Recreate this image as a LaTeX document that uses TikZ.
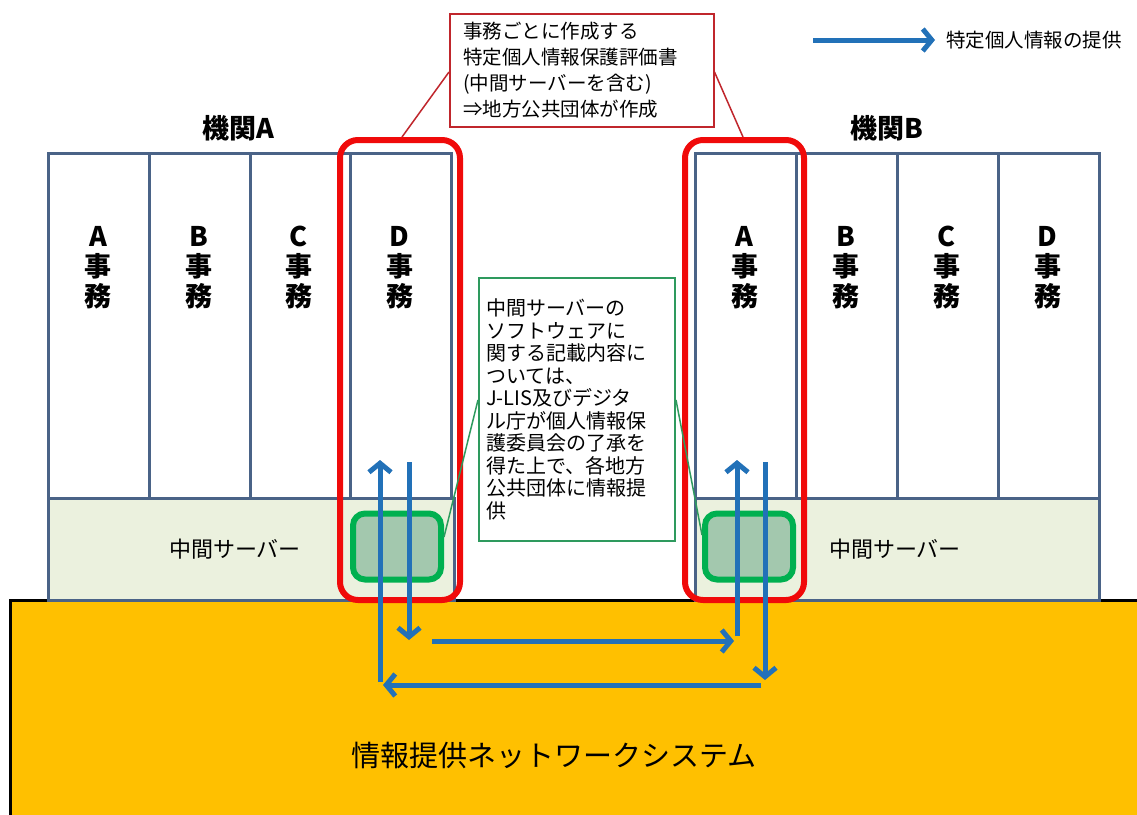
\documentclass[tikz,border=0pt]{standalone}
\usepackage{fontspec}
\setmainfont{Noto Sans CJK JP}
\usetikzlibrary{arrows.meta}
\definecolor{colline}{HTML}{4A6387}
\definecolor{stripfill}{HTML}{EBF1DE}
\definecolor{netfill}{HTML}{FFC000}
\definecolor{redline}{HTML}{F00A0A}
\definecolor{grn}{HTML}{00B050}
\definecolor{grnfill}{HTML}{A3C8AE}
\definecolor{calgrn}{HTML}{2E9A5E}
\definecolor{calred}{HTML}{C0262C}
\definecolor{arrblue}{HTML}{2271B8}
\tikzset{
  col/.style={draw=colline, line width=3pt, fill=white, minimum width=101pt, minimum height=345pt, inner sep=0pt, anchor=north west},
  strip/.style={draw=colline, line width=3pt, fill=stripfill, minimum height=102pt, inner sep=0pt, anchor=north west},
  collabel/.style={font=\bfseries\fontsize{27}{30}\selectfont, align=center, inner sep=0pt},
  orglabel/.style={font=\bfseries\fontsize{27}{30}\selectfont, inner sep=0pt},
  srvlabel/.style={font=\fontsize{22}{24}\selectfont, inner sep=0pt},
  redbox/.style={draw=redline, line width=6pt, rounded corners=18pt},
  grnbox/.style={draw=grn, line width=6pt, fill=grnfill, rounded corners=12pt, minimum width=88pt, minimum height=66pt, inner sep=0pt},
  flow/.style={draw=arrblue, line width=5pt, -{Straight Barb[length=9pt,width=22pt]}},
  callred/.style={draw=calred, line width=1.5pt, fill=white, align=left, font=\fontsize{19.5}{26}\selectfont, inner sep=0pt, anchor=north west, minimum width=264pt, minimum height=113pt, text width=245pt},
  callgrn/.style={draw=calgrn, line width=2pt, fill=white, align=left, font=\fontsize{20}{22.5}\selectfont, inner sep=0pt, anchor=north west, minimum width=196pt, minimum height=263pt, text width=184pt},
}
\begin{document}
\begin{tikzpicture}[x=1pt,y=-1pt]
\fill[white] (0,0) rectangle (1137,814);
\useasboundingbox (0,0) rectangle (1137,814);
\begin{scope}
\clip (0,0) rectangle (1137,814);
% network system
\path[fill=netfill, draw=black, line width=3pt] (10,600) rectangle (1160,840);
\node[font=\fontsize{29}{32}\selectfont, inner sep=0pt] (net) at (554,755) {情報提供ネットワークシステム};

% organisation A
\node[col] (a1) at (47,152) {};
\node[col] (a2) at (148,152) {};
\node[col] (a3) at (248.5,152) {};
\node[col] (a4) at (349,152) {};
\node[strip, minimum width=406pt] (sa) at (47,497) {};
\node[collabel] (la1) at (98,268) {A\\事\\務};
\node[collabel] (la2) at (198.5,268) {B\\事\\務};
\node[collabel] (la3) at (299,268) {C\\事\\務};
\node[collabel] (la4) at (399.5,268) {D\\事\\務};
\node[srvlabel] (sla) at (235,549) {中間サーバー};
\node[orglabel] (orgA) at (238,128) {機関A};

% organisation B
\node[col] (b1) at (694,152) {};
\node[col] (b2) at (795,152) {};
\node[col] (b3) at (896,152) {};
\node[col] (b4) at (997,152) {};
\node[strip, minimum width=404pt] (sb) at (694,497) {};
\node[collabel] (lb1) at (744.5,268) {A\\事\\務};
\node[collabel] (lb2) at (845.5,268) {B\\事\\務};
\node[collabel] (lb3) at (946.5,268) {C\\事\\務};
\node[collabel] (lb4) at (1047.5,268) {D\\事\\務};
\node[srvlabel] (slb) at (895,549) {中間サーバー};
\node[orglabel] (orgB) at (887,128) {機関B};

% green server parts
\node[grnbox] (ga) at (397,546.5) {};
\node[grnbox] (gb) at (749,546.5) {};

% red highlight
\draw[redbox] (340,140) rectangle (460,600);
\draw[redbox] (685,140) rectangle (804,600);
\coordinate (ra) at (402,137);
\coordinate (rb) at (743,137);

% red callout
\node[callred] (cr) at (449,13) {\hspace*{4pt}\parbox[t]{245pt}{事務ごとに作成する\\特定個人情報保護評価書\\(中間サーバーを含む)\\⇒地方公共団体が作成}};
\draw[calred, line width=1.5pt] (cr.west |- 0,72) -- (ra);
\draw[calred, line width=1.5pt] (cr.east |- 0,72) -- (rb);

% green callout
\node[callgrn] (cg) at (478,277) {\hspace*{1pt}\parbox[t]{190pt}{中間サーバーの\\ソフトウェアに\\関する記載内容に\\ついては、\\J-LIS及びデジタ\\ル庁が個人情報保\\護委員会の了承を\\得た上で、各地方\\公共団体に情報提\\供}};
\draw[calgrn, line width=1.5pt] (cg.west |- 0,400) -- (ga.east |- 0,537);
\draw[calgrn, line width=1.5pt] (cg.east |- 0,400) -- (gb.west |- 0,535);

% flows
\coordinate (p1) at (380,682);
\coordinate (p2) at (380,460);
\coordinate (p3) at (409,462);
\coordinate (p4) at (409,640);
\coordinate (p5) at (432,641);
\coordinate (p6) at (734,641);
\coordinate (p7) at (737,636);
\coordinate (p8) at (737,460);
\coordinate (p9) at (765,462);
\coordinate (p10) at (765,680);
\coordinate (p11) at (761,685);
\coordinate (p12) at (383,685);
\draw[flow] (p1) -- (p2);
\draw[flow] (p3) -- (p4);
\draw[flow] (p5) -- (p6);
\draw[flow] (p7) -- (p8);
\draw[flow] (p9) -- (p10);
\draw[flow] (p11) -- (p12);

% legend
\coordinate (l1) at (813,40);
\coordinate (l2) at (935,40);
\draw[flow] (l1) -- (l2);
\node[font=\fontsize{19.5}{22}\selectfont, anchor=west, inner sep=0pt] (legend) at (946,40) {特定個人情報の提供};
\end{scope}
\end{tikzpicture}
\end{document}
